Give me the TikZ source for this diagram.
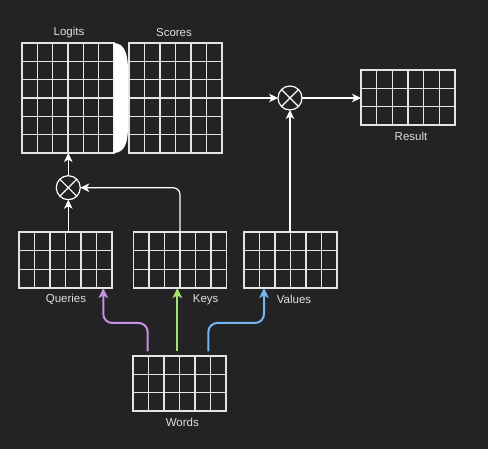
\documentclass[tikz,border=0pt]{standalone}
\usepackage{fontspec}
\setmainfont{Liberation Sans}
\usetikzlibrary{calc,arrows.meta}
\definecolor{bgcol}{HTML}{232224}
\definecolor{gridcol}{HTML}{E4E4E4}
\definecolor{txtcol}{HTML}{E0E0E0}
\definecolor{qcol}{HTML}{C491E4}
\definecolor{kcol}{HTML}{9FE46E}
\definecolor{vcol}{HTML}{74B5F2}
\tikzset{
  gridbox/.style={draw=gridcol, line width=1.2pt, inner sep=0pt, outer sep=0pt},
  gridline/.style={draw=gridcol, line width=1.2pt},
  lbl/.style={text=txtcol, font=\fontsize{11.5}{13}\selectfont, inner sep=0pt},
  mult/.style={circle, draw=white, line width=1.2pt, minimum size=24pt, inner sep=0pt, outer sep=0pt},
  conn/.style={draw=white, line width=1.2pt, -{Stealth[length=9pt,width=8.5pt,inset=2.5pt]}},
  colarrow/.style={line width=2pt, rounded corners=9pt, -{Stealth[length=10pt,width=9.5pt,inset=2.5pt]}}
}
\newcommand\gridmat[6]{%
  \node[gridbox,minimum width=#4pt,minimum height=#5pt] (#1) at (#2,#3) {};
  \foreach \k in {1,...,5}{\draw[gridline] ($(#1.north west)!{\k/6}!(#1.north east)$) -- ($(#1.south west)!{\k/6}!(#1.south east)$);}
  \pgfmathtruncatemacro\nrowsm{#6-1}
  \foreach \k in {1,...,\nrowsm}{\draw[gridline] ($(#1.north west)!{\k/#6}!(#1.south west)$) -- ($(#1.north east)!{\k/#6}!(#1.south east)$);}
}
\begin{document}
\begin{tikzpicture}[x=1pt,y=-1pt]
\fill[bgcol] (0,0) rectangle (488,449);
\useasboundingbox (0,0) rectangle (488,449);

% grids
\gridmat{logits}{68}{98}{92}{110}{6}
\gridmat{scores}{175.5}{98}{93}{110}{6}
\gridmat{result}{408}{97.5}{94}{55}{3}
\gridmat{queries}{65.5}{260}{93}{56}{3}
\gridmat{keys}{180}{260}{93}{56}{3}
\gridmat{values}{290.5}{260}{93}{56}{3}
\gridmat{words}{179.5}{383.5}{93}{55}{3}

% softmax bracket
\fill[white] (113.5,43) .. controls (125,43) and (128,55) .. (128,70) -- (128,127)
  .. controls (128,142) and (125,153) .. (113.5,153) -- cycle;

% labels
\node[lbl] (tlogits) at (69,33) {Logits};
\node[lbl] (tscores) at (174,33) {Scores};
\node[lbl] (tresult) at (411,136) {Result};
\node[lbl] (tqueries) at (66,299.5) {Queries};
\node[lbl] (tkeys) at (205.7,299.5) {Keys};
\node[lbl] (tvalues) at (294,299.5) {Values};
\node[lbl] (twords) at (182.3,422.5) {Words};

% multiply circles
\node[mult] (m1) at (290,98) {};
\draw[white, line width=1.2pt] (m1.45) -- (m1.225) (m1.135) -- (m1.315);
\node[mult] (m2) at (68.3,187.7) {};
\draw[white, line width=1.2pt] (m2.45) -- (m2.225) (m2.135) -- (m2.315);

% white connectors
\draw[conn] (scores.east |- m1) -- (m1.west);
\draw[conn] (m1.east) -- (result.west |- m1);
\draw[conn] (values.north -| m1) -- (m1.south);
\draw[conn] (m2.north) -- (logits.south -| m2);
\draw[conn] (queries.north -| m2) -- (m2.south);
\draw[conn, rounded corners=7pt] (keys.north) |- (m2.east);

% coloured arrows from words
\coordinate (sq) at (147.7,351.5);
\coordinate (sk) at (177.3,351.5);
\coordinate (sv) at (208.3,351.5);
\coordinate (eq) at (103.3,288);
\coordinate (ek) at (177.3,288);
\coordinate (ev) at (264,288);
\draw[colarrow, draw=qcol] (sq) -- ++(0,-28.5) -| (eq);
\draw[colarrow, draw=kcol] (sk) -- (ek);
\draw[colarrow, draw=vcol] (sv) -- ++(0,-28.5) -| (ev);
\end{tikzpicture}
\end{document}
